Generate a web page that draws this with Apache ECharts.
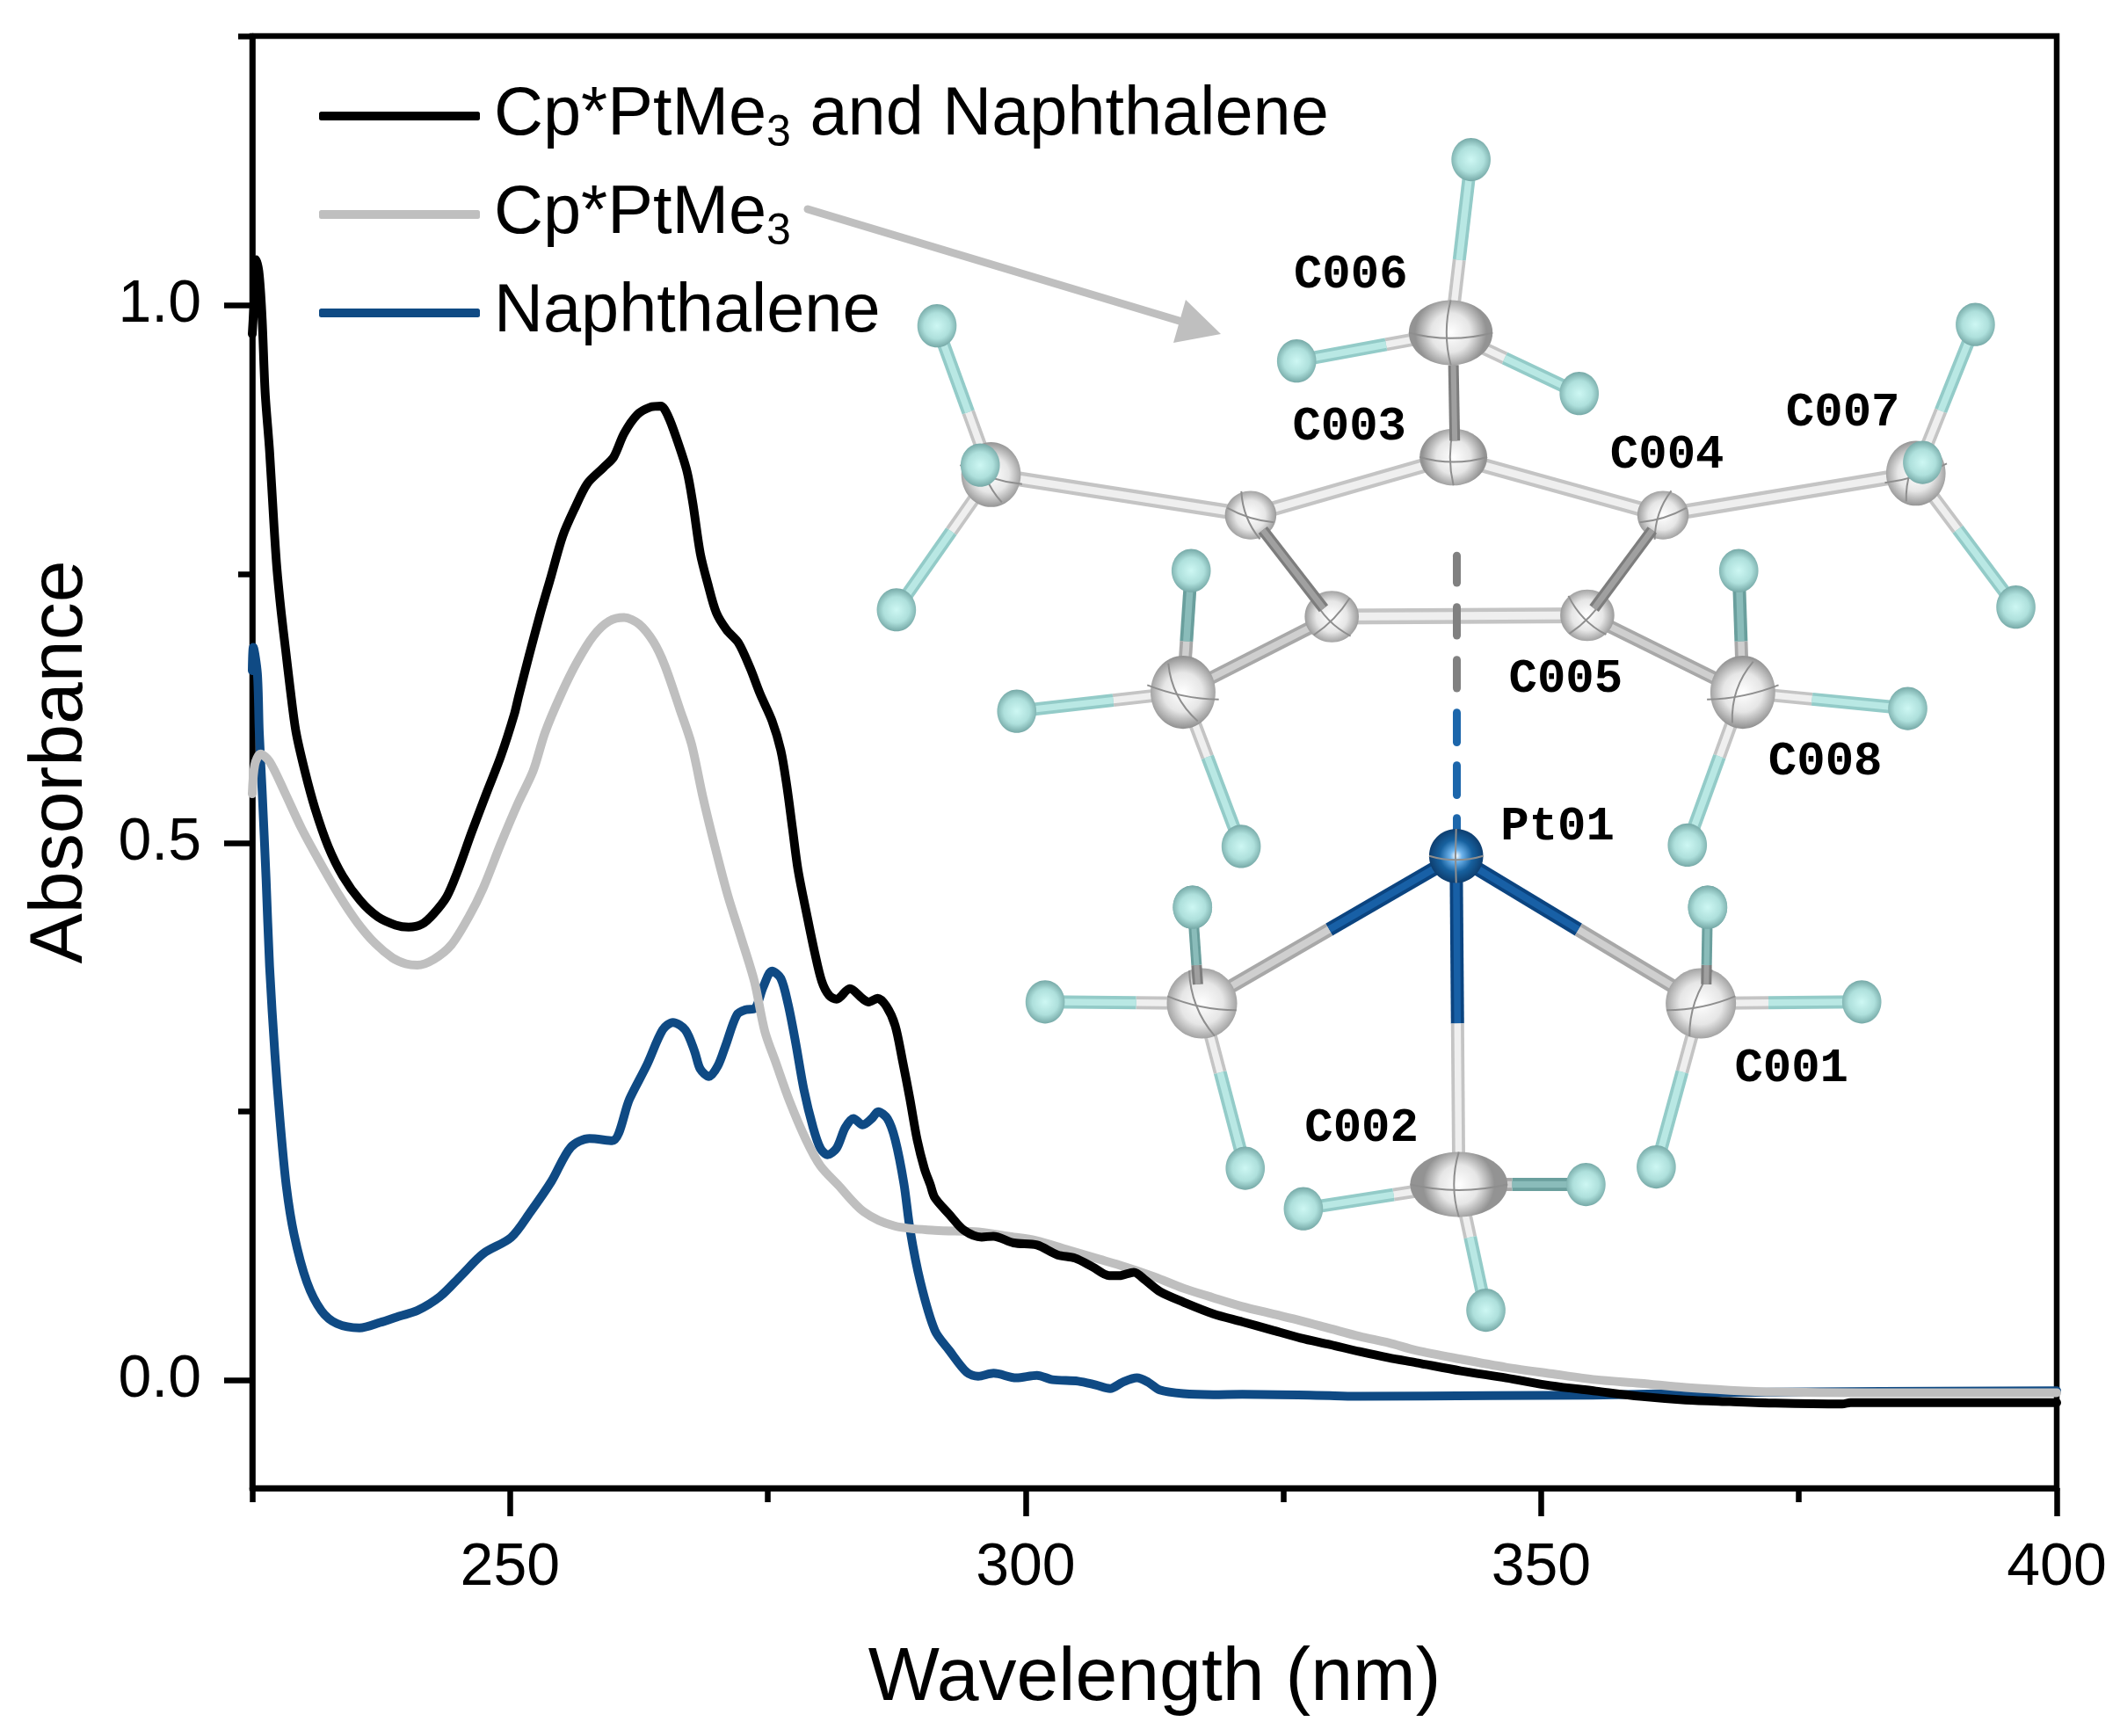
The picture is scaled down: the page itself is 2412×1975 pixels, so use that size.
<!DOCTYPE html>
<html><head><meta charset="utf-8">
<style>html,body{margin:0;padding:0;background:#fff}#c{width:2412px;height:1975px}</style>
<script src="https://cdn.jsdelivr.net/npm/echarts@6/dist/echarts.min.js"></script>
</head><body><div id="c"></div>
<script>
const xMajorTicks=[250,300,350,400];
const xMinorTicks=[225,275,325,375];
const yMajorTicks=[0,0.5,1];
const yMinorTicks=[0.25,0.75,1.25];
const seriesNames=['Cp*PtMe3 and Naphthalene','Cp*PtMe3','Naphthalene'];

const mixture=[[225,.973],[225.25,1.014],[225.4,1.042],[225.68,1.0275],[225.96,.9867],[226.25,.9186],[226.68,.864],[227.1,.796],[227.39,.755],[227.81,.714],[228.24,.679],[228.67,.644],[229.24,.603],[230.09,.567],[231.08,.532],[232.36,.4967],[233.78,.469],[235.49,.446],[237.19,.431],[238.9,.4235],[240.17,.4216],[241.45,.4243],[242.59,.434],[243.87,.45],[244.86,.472],[246.29,.51],[247.7,.5457],[249.13,.581],[250.4,.619],[250.83,.636],[251.83,.6735],[252.96,.714],[253.96,.747],[255.1,.785],[256.23,.81],[257.5,.834],[259.08,.849],[260.06,.8587],[261.06,.8805],[262.34,.898],[263.62,.905],[264.62,.906],[265.32,.8968],[266.18,.875],[267.17,.845],[267.74,.815],[268.45,.769],[269.16,.7416],[270,.714],[271,.698],[272.14,.686],[273.28,.6626],[274.27,.638],[275.4,.6136],[276.26,.586],[276.83,.5537],[277.4,.5128],[277.93,.4747],[278.82,.4314],[279.53,.3987],[280.24,.371],[280.95,.358],[281.67,.3546],[282.95,.3644],[284.22,.3548],[284.79,.352],[285.64,.3554],[286.5,.348],[287.35,.33],[288.06,.2976],[288.77,.2623],[289.48,.224],[290.19,.197],[290.76,.182],[291.2,.17],[292.6,.1545],[294.03,.1397],[295.73,.1334],[296.87,.1342],[298.83,.128],[301.1,.126],[303.1,.1168],[304.8,.1138],[306.5,.1056],[308.1,.0975],[309.07,.0975],[310.5,.1007],[311.6,.0934],[313.06,.0825],[315.3,.073],[318.2,.0621],[321,.0547],[323.87,.047],[326.7,.0395],[329.5,.0335],[332.4,.0269],[335.2,.0212],[337.9,.0166],[342.2,.009],[346.6,.0025],[350.9,-.0047],[355.3,-.0098],[359.6,-.0147],[364,-.018],[368.3,-.0196],[372.7,-.021],[379.2,-.0218],[380,-.0205],[390,-.0205],[400,-.0205]];

const complexOnly=[[225,.5455],[225.25,.5727],[225.8,.5825],[226.68,.5755],[228.1,.548],[229.8,.513],[231.5,.483],[233.5,.45],[235.2,.4257],[236.9,.4066],[238.6,.393],[239.9,.3875],[241,.3862],[242.6,.3916],[244.3,.405],[246,.4311],[247.4,.458],[249.1,.499],[250.8,.5374],[252.25,.567],[253.4,.6026],[254.95,.638],[256.5,.668],[258.1,.6925],[259.6,.706],[261.06,.7094],[262.5,.7034],[263.9,.687],[265,.665],[266.46,.6244],[267.6,.5917],[268.7,.5427],[269.87,.4965],[271.15,.45],[272.4,.412],[273.7,.371],[274.7,.325],[275.8,.295],[277.1,.26],[278.7,.224],[280.1,.1996],[281.8,.182],[284.3,.157],[287.3,.1437],[291.2,.1397],[295.4,.1383],[298.3,.1342],[301.1,.13],[303.9,.122],[306.8,.1138],[309.7,.1056],[312.5,.0964],[315.3,.0858],[318.2,.077],[321,.0689],[323.9,.0621],[326.7,.0556],[329.5,.0484],[332.4,.041],[335.2,.0351],[337.9,.028],[342.2,.0199],[346.6,.0123],[350.9,.0065],[355.3,.0008],[359.6,-.0025],[364,-.0065],[368.3,-.009],[372.7,-.0106],[381.4,-.0114],[400,-.0114]];

const naphthalene=[[225,.66],[225.1,.6816],[225.5,.657],[225.68,.603],[225.96,.548],[226.34,.4665],[226.68,.385],[227.2,.303],[227.7,.241],[228.3,.181],[229.05,.136],[230.3,.0915],[231.7,.065],[233.2,.053],[235.4,.049],[237.4,.054],[239.3,.06],[241,.065],[243.2,.078],[245.2,.097],[247.4,.118],[250.1,.133],[252,.157],[254,.185],[255.9,.217],[257.7,.225],[259.9,.223],[261.6,.262],[263.3,.294],[264.8,.326],[265.8,.333],[267,.326],[267.9,.306],[268.45,.2895],[269.3,.2827],[270.15,.2925],[270.9,.3113],[272,.34],[272.85,.3447],[273.7,.3456],[274.56,.366],[275.4,.3807],[276.26,.374],[276.97,.3497],[277.7,.314],[278.5,.2704],[279.4,.235],[280.1,.216],[280.8,.21],[281.67,.216],[282.5,.235],[283.3,.2437],[284.2,.2377],[285.07,.2435],[285.7,.25],[286.6,.2435],[287.35,.224],[288.2,.183],[288.8,.14],[289.8,.0915],[291.2,.0466],[292.6,.028],[294.3,.0076],[295.4,.004],[296.9,.0068],[299.1,.0025],[301.1,.0049],[302.6,.0008],[305.1,-.0006],[306.8,-.0041],[308.2,-.0074],[309.4,-.0016],[310.8,.0025],[311.9,-.0016],[313,-.0087],[315.3,-.0122],[318.2,-.0131],[321,-.0128],[329.5,-.014],[332.4,-.0147],[345,-.014],[355,-.0135],[370,-.011],[400,-.0095]];

const FONT='"Liberation Sans",Arial,sans-serif';
const BLACK='#000000',GRAY='#bfbfbf',BLUE='#0f4a84';

/* ---------- crystal-structure inset (illustration, not data) ---------- */
const k=2412/1568, g=[];
let zc=10;
function seg(a,b,w,color,cap){g.push({type:'line',silent:true,z:zc++,shape:{x1:a[0]*k,y1:a[1]*k,x2:b[0]*k,y2:b[1]*k},style:{stroke:color,lineWidth:w,lineCap:cap||'butt',fill:null}});}
function cyl(a,b,outer,inner,w){seg(a,b,w,outer);seg(a,b,w*.5,inner);}
const TONES={white:['#c4c4c4','#efefef'],dark:['#7d7d7d','#a0a0a0'],mid:['#a8a8a8','#cfcfcf'],teal:['#93cbc8','#b9e8e4'],dteal:['#6a9f9d','#8abcba'],blue:['#0b4480','#1860a6']};
function bond(a,b,t,w){cyl(a,b,TONES[t][0],TONES[t][1],w);}
function split(a,b,f,t1,t2,w){const m=[a[0]+(b[0]-a[0])*f,a[1]+(b[1]-a[1])*f];bond(a,m,t1,w);bond(m,b,t2,w);}
function hb(c,h,back){split(c,h,.42,back?'mid':'white',back?'dteal':'teal',15);}
function ell(c,rx,ry,stops,stroke){g.push({type:'ellipse',silent:true,z:zc++,shape:{cx:c[0]*k,cy:c[1]*k,rx:rx*k,ry:ry*k},style:{fill:{type:'radial',x:.5,y:.5,r:.55,colorStops:stops},stroke:stroke||null,lineWidth:1}});}
const H_STOPS=[{offset:0,color:'#cdf7f3'},{offset:.6,color:'#aee0dc'},{offset:1,color:'#76a9a7'}];
const C_STOPS=[{offset:0,color:'#ffffff'},{offset:.55,color:'#e6e6e6'},{offset:1,color:'#939393'}];
function hyd(c){ell(c,14.5,16,H_STOPS);}
function curve(c,rx,ry,ang,bow){
  const co=Math.cos(ang),si=Math.sin(ang),P=(u,v)=>[(c[0]+u*rx*co-v*ry*si)*k,(c[1]+u*rx*si+v*ry*co)*k];
  const A=P(-1,0),B=P(1,0),C=P(0,bow);
  g.push({type:'bezierCurve',silent:true,z:zc++,shape:{x1:A[0],y1:A[1],x2:B[0],y2:B[1],cpx1:C[0],cpy1:C[1]},style:{stroke:'#8e8e8e',lineWidth:2,fill:null}});
}
function carb(c,rx,ry,a1,a2){ell(c,rx,ry,C_STOPS);curve(c,rx,ry,a1,.35);curve(c,ry,rx,a2,.2);}
function label(t,c){g.push({type:'text',silent:true,z:zc++,style:{text:t,x:c[0]*k,y:c[1]*k,align:'center',verticalAlign:'middle',font:'bold 54px "Liberation Mono",monospace',fill:'#000'}});}

const Ctop=[1075,338],CL=[925,381],CR=[1230,381],CdL=[985,456],CdR=[1174,455];
const M6=[1073,246],ML=[733,351],MR=[1417,350],MdL=[875,512],MdR=[1289,512];
const Pt=[1077,633],PL=[889,742],PR=[1258,742],PB=[1079,876];

hb(M6,[1088,118]);hb(M6,[959,267]);hb(M6,[1168,291]);
hb(ML,[693,241]);hb(ML,[663,451]);hb(MR,[1461,240]);hb(MR,[1491,449]);
hb(MdL,[881,422],true);hb(MdL,[752,526]);hb(MdL,[918,626]);
hb(MdR,[1286,422],true);hb(MdR,[1411,524]);hb(MdR,[1248,625]);
hb(PL,[773,741]);hb(PL,[921,864]);hb(PR,[1377,741]);hb(PR,[1225,863]);
hb(PB,[964,894]);hb(PB,[1173,876],true);hb(PB,[1099,969]);
bond(Ctop,CL,'white',17);bond(Ctop,CR,'white',17);bond(CL,ML,'white',17);bond(CR,MR,'white',17);
bond(CdL,CdR,'white',18);bond(CdL,MdL,'mid',15);bond(CdR,MdR,'mid',15);
split(Pt,PL,.5,'blue','mid',16);split(Pt,PR,.5,'blue','mid',16);split(Pt,PB,.51,'blue','white',15);

[[1088,118],[959,267],[1168,291],[693,241],[663,451],[1461,240],[1491,449],[881,422],[752,526],[918,626],[1286,422],[1411,524],[1248,625],[882,671],[773,741],[921,864],[1263,671],[1377,741],[1225,863],[964,894],[1173,876],[1099,969]].forEach(hyd);

carb(M6,31,24,0,1.57);carb(Ctop,25,21,0,1.57);carb(CL,19,18,1.2,.3);carb(CR,19,18,1.9,-.3);
carb(CdL,20,19,.8,-.8);carb(CdR,20,19,.8,-.8);carb(ML,22,24,1.2,.3);carb(MR,22,24,1.9,-.3);
carb(MdL,24,27,1.1,.2);carb(MdR,24,27,1.9,-.2);carb(PL,26,26,1.2,.2);carb(PR,26,26,1.9,-.2);carb(PB,36,24,0,1.57);

bond([1075,270],[1076,326],'dark',12);
bond([934,392],[979,450],'dark',13);bond([1222,392],[1179,450],'dark',13);
split([886,728],[882,671],.25,'dark','dteal',12);split([1262,728],[1263,671],.25,'dark','dteal',12);
hyd([882,671]);hyd([1263,671]);
hb(ML,[725,344]);hyd([725,344]);hb(MR,[1422,342]);hyd([1422,342]);

const dashes=[[411,431,'#808080'],[449,470,'#808080'],[488,509,'#808080'],[527,549,'#1c66ab'],[566,588,'#1c66ab'],[605,618,'#1c66ab']];
dashes.forEach(d=>seg([1077.5,d[0]],[1077.5,d[1]],9,d[2],'round'));

g.push({type:'ellipse',silent:true,z:zc++,shape:{cx:Pt[0]*k,cy:Pt[1]*k,rx:20*k,ry:20*k},style:{fill:{type:'radial',x:.5,y:.5,r:.55,colorStops:[{offset:0,color:'#ffffff'},{offset:.2,color:'#6db3ec'},{offset:.55,color:'#17619f'},{offset:1,color:'#0b3563'}]}}});
curve(Pt,20,20,0,.3);curve(Pt,20,20,1.57,.05);

label('C006',[999,204]);label('C003',[998,316]);label('C004',[1233,337]);label('C007',[1363,306]);
label('C005',[1158,503]);label('C008',[1350,564]);label('Pt01',[1152,612]);label('C002',[1007,835]);label('C001',[1325,791]);

/* arrow from the legend entry to the structure */
g.push({type:'line',silent:true,z:zc++,shape:{x1:919,y1:238,x2:1345,y2:366},style:{stroke:GRAY,lineWidth:9,lineCap:'round',fill:null}});
g.push({type:'polygon',silent:true,z:zc++,shape:{points:[[1389,380],[1349,341],[1335,390]]},style:{fill:GRAY}});

const chart=echarts.init(document.getElementById('c'),null,{renderer:'canvas'});
const lineSeries=(name,data,color,z)=>({name,type:'line',data,z,symbol:'none',smooth:0.3,clip:false,xAxisIndex:0,yAxisIndex:0,
  lineStyle:{color,width:10,join:'round',cap:'round'},itemStyle:{color},animation:false});
const tick=(vals,len)=>({show:true,length:len,customValues:vals,lineStyle:{color:'#000',width:6.5}});
const tickText={fontFamily:FONT,fontSize:68,color:'#000'};

chart.setOption({
  animation:false,backgroundColor:'#fff',
  grid:{left:287,right:72,top:41,bottom:282,outerBoundsMode:'none',show:true,borderColor:'#000',borderWidth:6.5,backgroundColor:'transparent'},
  xAxis:[
    {type:'value',min:225,max:400,position:'bottom',name:'Wavelength (nm)',nameLocation:'middle',nameGap:174,
     nameTextStyle:{fontFamily:FONT,fontSize:86,color:'#000'},splitLine:{show:false},
     axisLine:{show:true,onZero:false,lineStyle:{color:'#000',width:6.5}},axisTick:tick(xMajorTicks,32),
     axisLabel:Object.assign({show:true,customValues:xMajorTicks,margin:57,formatter:v=>String(v)},tickText)},
    {type:'value',min:225,max:400,position:'bottom',splitLine:{show:false},axisLine:{show:false,onZero:false},
     axisTick:tick(xMinorTicks,16),axisLabel:{show:false}}
  ],
  yAxis:[
    {type:'value',min:-0.1,max:1.25,position:'left',name:'Absorbance',nameLocation:'middle',nameGap:175,nameRotate:90,
     nameTextStyle:{fontFamily:FONT,fontSize:86,color:'#000'},splitLine:{show:false},
     axisLine:{show:true,onZero:false,lineStyle:{color:'#000',width:6.5}},axisTick:tick(yMajorTicks,32),
     axisLabel:Object.assign({show:true,customValues:yMajorTicks,margin:58,formatter:v=>v.toFixed(1)},tickText)},
    {type:'value',min:-0.1,max:1.25,position:'left',splitLine:{show:false},axisLine:{show:false,onZero:false},
     axisTick:tick(yMinorTicks,16),axisLabel:{show:false}}
  ],
  legend:{show:true,orient:'vertical',left:358,top:88,itemWidth:183,itemHeight:10,itemGap:28,icon:'roundRect',selectedMode:false,
    data:seriesNames,
    formatter:n=>n.split('3').map((s,i)=>(i?'{s|3}':'')+(s?'{t|'+s+'}':'')).join(''),
    textStyle:{fontFamily:FONT,fontSize:77.5,color:'#000',padding:[0,0,0,11],
      rich:{t:{fontFamily:FONT,fontSize:77.5,color:'#000',lineHeight:90},
            s:{fontFamily:FONT,fontSize:50,color:'#000',lineHeight:32,verticalAlign:'bottom'}}}},
  series:[
    lineSeries(seriesNames[2],naphthalene,BLUE,3),
    lineSeries(seriesNames[1],complexOnly,GRAY,4),
    lineSeries(seriesNames[0],mixture,BLACK,5)
  ],
  graphic:{elements:g}
});
</script></body></html>
